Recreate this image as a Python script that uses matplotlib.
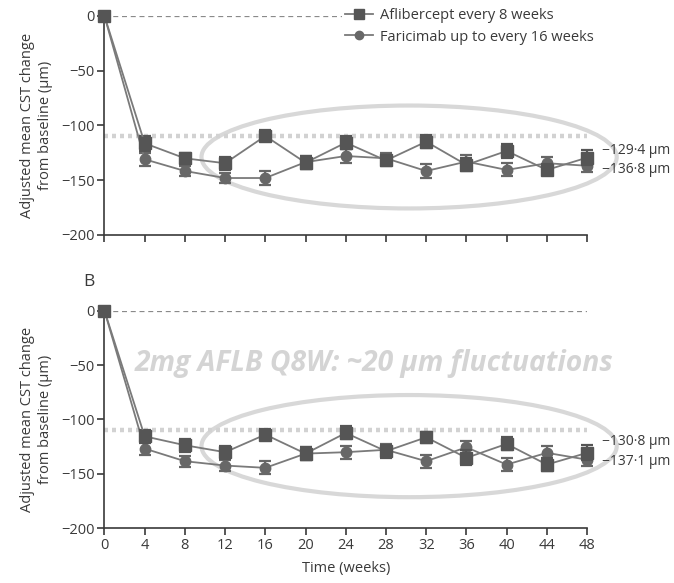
import matplotlib
matplotlib.use("Agg")
import matplotlib.pyplot as plt
from matplotlib.patches import Ellipse
from matplotlib.lines import Line2D

plt.rcParams['font.family'] = ['Open Sans', 'DejaVu Sans']

weeks = [0, 4, 8, 12, 16, 20, 24, 28, 32, 36, 40, 44, 48]
week_ticks = [0, 4, 8, 12, 16, 20, 24, 28, 32, 36, 40, 44, 48]
y_ticks = [0, -50, -100, -150, -200]
y_tick_labels = ["0", "\u221250", "\u2212100", "\u2212150", "\u2212200"]

series_names = ["Aflibercept every 8 weeks", "Faricimab up to every 16 weeks"]

# Panel A
aflib_a = [0, -116.3, -130.0, -134.5, -109.6, -134.0, -115.7, -132.0, -114.8, -136.0, -123.3, -140.6, -129.4]
aflib_a_err = [0, 7, 5, 6, 5, 6, 6, 5, 6, 6, 6, 5, 7]
faric_a = [0, -130.9, -141.6, -148.0, -148.0, -133.5, -127.9, -130.0, -141.6, -133.0, -140.6, -134.5, -136.8]
faric_a_err = [0, 6, 5, 5, 6, 6, 6, 5, 6, 6, 6, 6, 6]
end_labels_a = [-129.4, -136.8]

# Panel B
aflib_b = [0, -115.6, -123.8, -130.2, -114.0, -131.5, -112.5, -129.3, -116.5, -135.4, -122.6, -141.6, -130.8]
aflib_b_err = [0, 6, 6, 6, 5, 6, 6, 6, 5, 7, 6, 6, 7]
faric_b = [0, -126.9, -138.5, -142.5, -144.6, -131.5, -130.2, -128.0, -138.5, -125.7, -141.6, -130.8, -137.1]
faric_b_err = [0, 6, 5, 5, 6, 6, 6, 5, 6, 6, 6, 6, 6]
end_labels_b = [-130.8, -137.1]

reference_level = -110
annotation_text = "2mg AFLB Q8W: ~20 \u00b5m fluctuations"

ink = "#3a3a3a"
line_col = "#7a7a7a"
sq_col = "#555555"
ci_col = "#676767"
ring_col = "#d8d8d8"

fig = plt.figure(figsize=(6.74, 5.83), dpi=100)
ax_a = fig.add_axes([0.155, 0.597, 0.716, 0.3756])
ax_b = fig.add_axes([0.155, 0.0943, 0.716, 0.3727])


def fmt(v):
    return ("\u2212" if v < 0 else "") + f"{abs(v):.1f}".replace(".", "\u00b7") + " \u00b5m"


def draw_panel(ax, aflib, aflib_err, faric, faric_err, end_labels, ring_y, label_offsets, show_xlabels):
    ax.set_xlim(0, 48)
    ax.set_ylim(-200, 0)
    for s in ["top", "right"]:
        ax.spines[s].set_visible(False)
    for s in ["left", "bottom"]:
        ax.spines[s].set_color(ink)
        ax.spines[s].set_linewidth(1.2)

    ax.axhline(0, color="#8a8a8a", lw=0.9, ls=(0, (4, 3)), zorder=1)
    ax.plot([0, 48], [reference_level] * 2, color="#d2d2d2", lw=3.2,
            ls=(0, (0.9, 0.9)), zorder=2, clip_on=False)
    ax.add_patch(Ellipse((30.3, ring_y), 41.3, 94, fill=False, edgecolor=ring_col,
                         lw=3.0, clip_on=False, zorder=1.5))

    ax.errorbar(weeks, aflib, yerr=aflib_err, color=line_col, lw=1.3,
                ecolor=sq_col, elinewidth=1.6, capsize=4.5, capthick=1.6,
                marker="s", ms=8.5, mfc=sq_col, mec=sq_col, zorder=4,
                clip_on=False)
    ax.errorbar(weeks, faric, yerr=faric_err, color=line_col, lw=1.3,
                ecolor=ci_col, elinewidth=1.6, capsize=4.5, capthick=1.6,
                marker="o", ms=7.5, mfc=ci_col, mec=ci_col, zorder=3,
                clip_on=False)

    for val, dy in zip(end_labels, label_offsets):
        ax.annotate(fmt(val), xy=(48, val), xytext=(11, dy), textcoords="offset points",
                    ha="left", va="center", fontsize=10, color=ink, annotation_clip=False)

    ax.set_xticks(week_ticks)
    ax.set_yticks(y_ticks)
    ax.set_yticklabels(y_tick_labels)
    ax.tick_params(axis="both", direction="out", length=5, width=1.2, color=ink,
                   labelsize=10.5, labelcolor=ink, pad=2)
    if show_xlabels:
        ax.set_xticklabels([str(w) for w in week_ticks])
    else:
        ax.set_xticklabels([])
    ax.set_ylabel("Adjusted mean CST change\nfrom baseline (\u00b5m)", fontsize=10.5,
                  color=ink, labelpad=6, linespacing=1.25)


draw_panel(ax_a, aflib_a, aflib_a_err, faric_a, faric_a_err, end_labels_a, -128.8,
           [5.5, -2.5], False)
draw_panel(ax_b, aflib_b, aflib_b_err, faric_b, faric_b_err, end_labels_b, -124.6,
           [8, -1], True)

handles = [
    Line2D([], [], color=line_col, lw=1.3, marker="s", ms=7, mfc=sq_col, mec=sq_col),
    Line2D([], [], color=line_col, lw=1.3, marker="o", ms=6, mfc=ci_col, mec=ci_col),
]
leg = ax_a.legend(handles, series_names, loc="upper right", bbox_to_anchor=(1.02, 1.05),
                  frameon=True, facecolor="white", edgecolor="none", framealpha=1,
                  fontsize=10.5, handlelength=1.9, handletextpad=0.5, labelspacing=0.45,
                  borderpad=0.2, borderaxespad=0)
for t in leg.get_texts():
    t.set_color(ink)

ax_b.set_xlabel("Time (weeks)", fontsize=10.5, color=ink, labelpad=6)
ax_b.text(-0.045, 1.13, "B", transform=ax_b.transAxes, fontsize=12.5, color=ink,
          ha="left", va="center")
ax_b.text(26.8, -48.5, annotation_text, fontsize=20.3, fontweight="bold", fontstyle="italic",
          color="#d4d4d4", ha="center", va="center", zorder=0.5)

fig.savefig("out.png", dpi=100, facecolor="white")
